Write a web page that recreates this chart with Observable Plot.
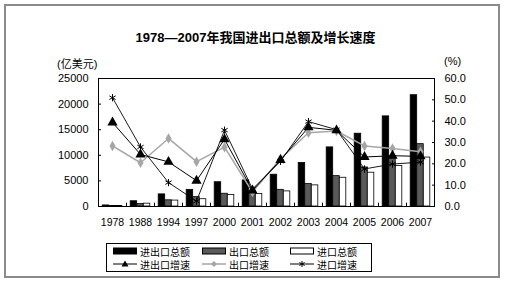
<!DOCTYPE html>
<html>
<head>
<meta charset="utf-8">
<script src="https://cdn.jsdelivr.net/npm/d3@7"></script>
<script src="https://cdn.jsdelivr.net/npm/@observablehq/plot@0.6"></script>
<style>
  body { margin: 0; background: #fff; }
  #wrap { position: relative; width: 505px; height: 284px; font-family: "Liberation Sans", "Noto Sans CJK SC", sans-serif; color: #000; }
  #border { position: absolute; left: 4px; top: 4px; width: 492px; height: 270px; border: 2px solid #8a8a8a; }
  #title { position: absolute; left: 0; width: 511px; top: 27px; text-align: center; font-size: 13px; font-weight: bold; }
  .unit { position: absolute; top: 55px; font-size: 11px; }
  #chart { position: absolute; left: 0; top: 0; }
  #legend { position: absolute; left: 106px; top: 243px; width: 264px; height: 27px; border: 1px solid #000; font-size: 10px; }
  .item { position: absolute; display: flex; align-items: center; height: 12px; }
  .item svg { margin-right: 3px; }
</style>
</head>
<body>
<div id="wrap">
  <div id="border"></div>
  <div id="title">1978—2007年我国进出口总额及增长速度</div>
  <div class="unit" style="left:57px">(亿美元)</div>
  <div class="unit" style="left:444px">(%)</div>
  <div id="chart"></div>
  <div id="legend"></div>
</div>
<script>
const years = ["1978","1988","1994","1997","2000","2001","2002","2003","2004","2005","2006","2007"];
const totalTrade  = [206, 1028, 2366, 3252, 4743, 5097, 6208, 8510, 11546, 14219, 17604, 21737];
const exportTrade = [98, 475, 1210, 1828, 2492, 2661, 3256, 4382, 5933, 7620, 9689, 12178];
const importTrade = [109, 553, 1156, 1424, 2251, 2436, 2952, 4128, 5612, 6600, 7915, 9558];
const totalGrowth  = [39.4, 24.4, 20.9, 12.1, 31.5, 7.5, 21.8, 37.1, 35.7, 23.2, 23.8, 23.5];
const exportGrowth = [28.4, 20.5, 31.9, 21.0, 27.8, 6.8, 22.4, 34.6, 35.4, 28.4, 27.2, 25.7];
const importGrowth = [51.0, 27.9, 11.2, 2.5, 35.8, 8.2, 21.2, 39.8, 36.0, 17.6, 19.9, 20.8];
const leftTicks = [0, 5000, 10000, 15000, 20000, 25000];
const rightTicks = [0, 10, 20, 30, 40, 50, 60];
const seriesNames = ["进出口总额", "出口总额", "进口总额", "进出口增速", "出口增速", "进口增速"];

const K = 25000 / 60; // right-axis % -> left-axis units
const bars = (vals) => years.map((y, i) => ({year: y, value: vals[i]}));
const pts = (vals) => years.map((y, i) => ({year: y, value: vals[i] * K}));

const barStyles = [
  {vals: totalTrade, fill: "#000000", insetLeft: 4.2, insetRight: 17.3},
  {vals: exportTrade, fill: "#5a5a5a", insetLeft: 10.75, insetRight: 10.75},
  {vals: importTrade, fill: "#ffffff", insetLeft: 17.3, insetRight: 4.2}
];

const marks = [];
for (const b of barStyles) {
  marks.push(Plot.barY(bars(b.vals), {x: "year", y: "value", fill: b.fill, stroke: "#000", strokeWidth: 0.8, insetLeft: b.insetLeft, insetRight: b.insetRight}));
}
// category separator ticks on x axis
marks.push(Plot.ruleX(years.slice(1), {x: d => d, y1: 0, y2: 650, dx: -14, stroke: "#000", strokeWidth: 1}));
// growth lines
marks.push(Plot.line(pts(exportGrowth), {x: "year", y: "value", stroke: "#a6a6a6", strokeWidth: 1.5}));
marks.push(Plot.dot(pts(exportGrowth), {x: "year", y: "value", symbol: "diamond", r: 3.2, fill: "#a6a6a6", stroke: "none"}));
marks.push(Plot.line(pts(totalGrowth), {x: "year", y: "value", stroke: "#000", strokeWidth: 1}));
marks.push(Plot.dot(pts(totalGrowth), {x: "year", y: "value", symbol: "triangle", r: 3.8, fill: "#000", stroke: "none"}));
marks.push(Plot.line(pts(importGrowth), {x: "year", y: "value", stroke: "#000", strokeWidth: 0.9}));
marks.push(Plot.dot(pts(importGrowth), {x: "year", y: "value", symbol: "asterisk", r: 3.4, stroke: "#000", strokeWidth: 1}));
marks.push(Plot.frame({stroke: "#000", strokeWidth: 1}));
marks.push(Plot.axisY({anchor: "left", ticks: leftTicks, tickSize: 0, tickPadding: 10, tickFormat: d3.format("d"), fontSize: 11, label: null}));
marks.push(Plot.axisY({anchor: "left", ticks: leftTicks, tickSize: 3, dx: 3, tickFormat: () => "", label: null}));
marks.push(Plot.axisY({anchor: "right", ticks: rightTicks.map(v => v * K), tickSize: 0, tickPadding: 10, tickFormat: d => (d / K).toFixed(1), fontSize: 11, label: null}));
marks.push(Plot.axisY({anchor: "right", ticks: rightTicks.map(v => v * K), tickSize: 3, dx: -3, tickFormat: () => "", label: null}));
marks.push(Plot.axisX({tickSize: 0, tickPadding: 12, fontSize: 10.5, label: null, style: "letter-spacing:-0.4px"}));

const chart = Plot.plot({
  width: 505,
  height: 284,
  marginTop: 78,
  marginBottom: 78,
  marginLeft: 98,
  marginRight: 71,
  style: {background: "transparent", fontFamily: "Liberation Sans, sans-serif", color: "#000", overflow: "visible"},
  x: {type: "band", domain: years, padding: 0},
  y: {domain: [0, 25000]},
  marks
});
document.getElementById("chart").appendChild(chart);

// legend
const legend = document.getElementById("legend");
const swatches = [
  `<svg width="24" height="8"><rect x="0.5" y="1" width="23" height="6" fill="#000" stroke="#000"/></svg>`,
  `<svg width="24" height="8"><rect x="0.5" y="1" width="23" height="6" fill="#5a5a5a" stroke="#000"/></svg>`,
  `<svg width="24" height="8"><rect x="0.5" y="1" width="23" height="6" fill="#fff" stroke="#000"/></svg>`,
  `<svg width="24" height="8"><line x1="0" y1="4" x2="24" y2="4" stroke="#000"/><path d="M12,0.5L15.5,6.5L8.5,6.5Z" fill="#000"/></svg>`,
  `<svg width="24" height="8"><line x1="0" y1="4" x2="24" y2="4" stroke="#a6a6a6" stroke-width="1.5"/><path d="M12,1L15,4L12,7L9,4Z" fill="#a6a6a6"/></svg>`,
  `<svg width="24" height="8"><line x1="0" y1="4" x2="24" y2="4" stroke="#000"/><path d="M12,1V7M9.4,2.5L14.6,5.5M9.4,5.5L14.6,2.5" stroke="#000"/></svg>`
];
const colX = [6, 95, 183];
seriesNames.forEach((name, i) => {
  const el = document.createElement("div");
  el.className = "item";
  el.style.left = colX[i % 3] + "px";
  el.style.top = (i < 3 ? 1 : 14) + "px";
  el.innerHTML = swatches[i] + `<span>${name}</span>`;
  legend.appendChild(el);
});
</script>
</body>
</html>
